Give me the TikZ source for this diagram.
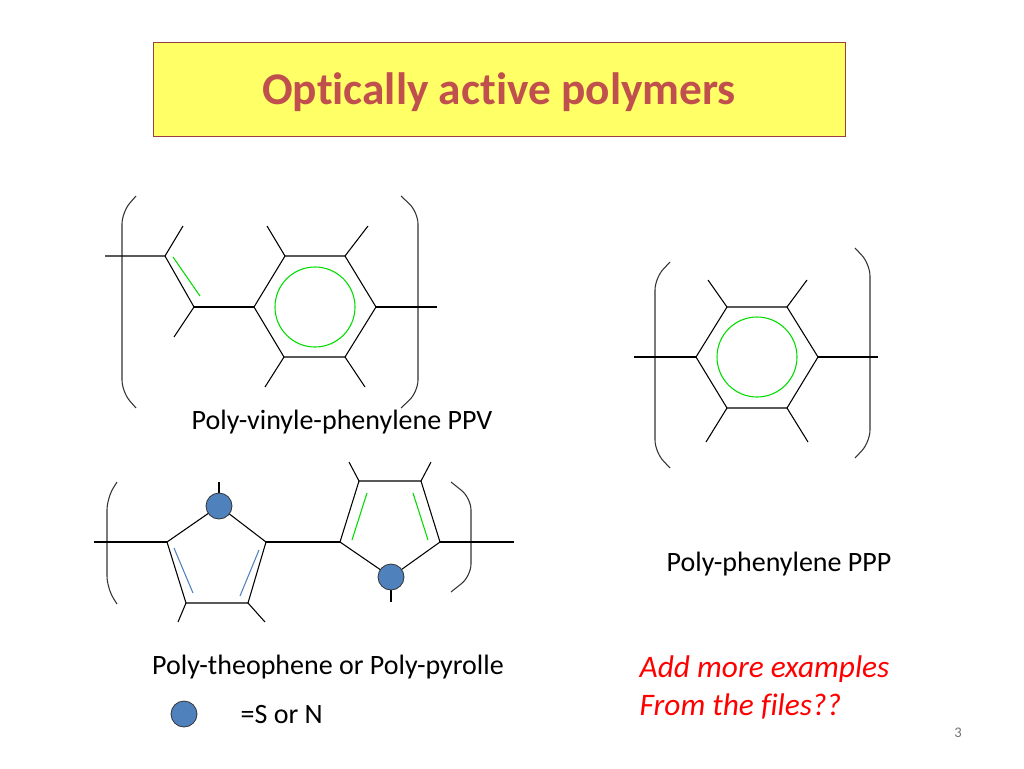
\documentclass[tikz,border=0pt]{standalone}
\usepackage{fontspec}
\setmainfont[Ligatures=NoCommon]{Carlito}
\usepackage{tikz}
\usetikzlibrary{calc,positioning}
\definecolor{titlered}{RGB}{192,80,77}
\definecolor{hetblue}{RGB}{79,129,189}
\definecolor{bondgreen}{RGB}{0,220,0}
\newcommand{\lbrak}[4]{ \draw[line width=0.8pt, black!80] ( #2 , #3 ) -- ( #1 , #3 + 16 ) -- ( #1 , #4 - 16 ) -- ( #2 , #4 );}
\newcommand{\rbrak}[4]{ \draw[line width=0.8pt, black!80] ( #1 , #3 ) -- ( #2 , #3 + 16 ) -- ( #2 , #4 - 16 ) -- ( #1 , #4 );}
\tikzset{
  bond/.style={draw=black, line width=0.8pt},
  ring/.style={draw=bondgreen, line width=0.8pt},
  atom/.style={circle, fill=hetblue, draw=black!80, line width=0.6pt, minimum size=19.5pt, inner sep=0pt},
  caption/.style={font=\fontsize{21}{25}\selectfont},
}
\begin{document}
\begin{tikzpicture}[x=0.75pt,y=-0.75pt,rounded corners=9pt]
  \useasboundingbox (0,0) rectangle (1024,768);
  % title
  \node[draw=titlered!80!black, fill={rgb,255:red,255;green,255;blue,102}, sharp corners,
    minimum width=519pt, minimum height=70.5pt] (title) at (499,89) {};
  \node[text=titlered, font=\fontsize{34}{40}\selectfont\bfseries] (titletext) at (499,92) {Optically active polymers};
  % PPV
  \lbrak{122}{136}{196}{408}
  \rbrak{401}{418}{196}{408}
  \begin{scope}[sharp corners]
    \coordinate (v1) at (165,256);
    \coordinate (v2) at (194,307);
    \draw[bond] (105,256) -- (v1) -- (183,226);
    \draw[bond] (v1) -- (v2) -- (174,337);
    \draw[ring] (173,257) -- (200,296);
    \draw[bond] (v2) -- (254,307);
    \draw[bond] (254,307) -- (285,256) -- (345,256) -- (376,307) -- (345,357) -- (284,357) -- cycle;
    \draw[ring] (315,307) circle[radius=40];
    \draw[bond] (285,256) -- (267,226);
    \draw[bond] (345,256) -- (368,226);
    \draw[bond] (284,357) -- (265,387);
    \draw[bond] (345,357) -- (365,387);
    \draw[bond] (376,307) -- (437,307);
  \end{scope}
  \node[caption] (ppv) at (342,422) {Poly-vinyle-phenylene PPV};
  % PPP
  \lbrak{655}{670}{262}{468}
  \rbrak{855}{870}{248}{458}
  \begin{scope}[sharp corners]
    \draw[bond] (696,357) -- (727,307) -- (787,307) -- (818,357) -- (787,408) -- (727,408) -- cycle;
    \draw[ring] (757,357) circle[radius=40];
    \draw[bond] (727,307) -- (708,280);
    \draw[bond] (787,307) -- (807,280);
    \draw[bond] (727,408) -- (706,442);
    \draw[bond] (787,408) -- (808,442);
    \draw[bond] (634,357) -- (696,357);
    \draw[bond] (818,357) -- (878,357);
  \end{scope}
  \node[caption] (ppp) at (779,564) {Poly-phenylene PPP};
  % thiophene / pyrrole
  \lbrak{107}{117}{482}{604}
  \rbrak{451}{471}{482}{592}
  \begin{scope}[sharp corners]
    \draw[bond] (94,542) -- (167,542);
    \draw[bond] (167,542) -- (219,506) -- (266,542) -- (248,603) -- (186,603) -- cycle;
    \draw[bond] (219,506) -- (219,482);
    \draw[bond] (186,603) -- (178,622);
    \draw[bond] (248,603) -- (265,622);
    \draw[hetblue, line width=0.8pt] (174,548) -- (193,593);
    \draw[hetblue, line width=0.8pt] (259,550) -- (240,596);
    \node[atom] (s1) at (219,506) {};
    \draw[bond] (266,542) -- (340,542);
    \draw[bond] (340,542) -- (359,481) -- (421,481) -- (440,542) -- (391,577) -- cycle;
    \draw[bond] (391,577) -- (391,602);
    \draw[bond] (359,481) -- (349,462);
    \draw[bond] (421,481) -- (431,462);
    \draw[ring] (367,493) -- (352,540);
    \draw[ring] (413,493) -- (428,540);
    \node[atom] (s2) at (391,577) {};
    \draw[bond] (440,542) -- (514,542);
  \end{scope}
  \node[caption] (pt) at (328,667) {Poly-theophene or Poly-pyrolle};
  \node[atom] (key) at (184,714) {};
  \node[caption, right=39pt of key.center, anchor=west] (keytext) {=S or N};
  % note
  \node[text=red, font=\fontsize{23.5}{28.5}\selectfont\itshape, anchor=west, align=left] (note) at (635,687)
    {Add more examples\\From the files??};
  \node[text=black!55, font=\fontsize{11}{13}\selectfont] (page) at (958,733) {3};
\end{tikzpicture}
\end{document}
